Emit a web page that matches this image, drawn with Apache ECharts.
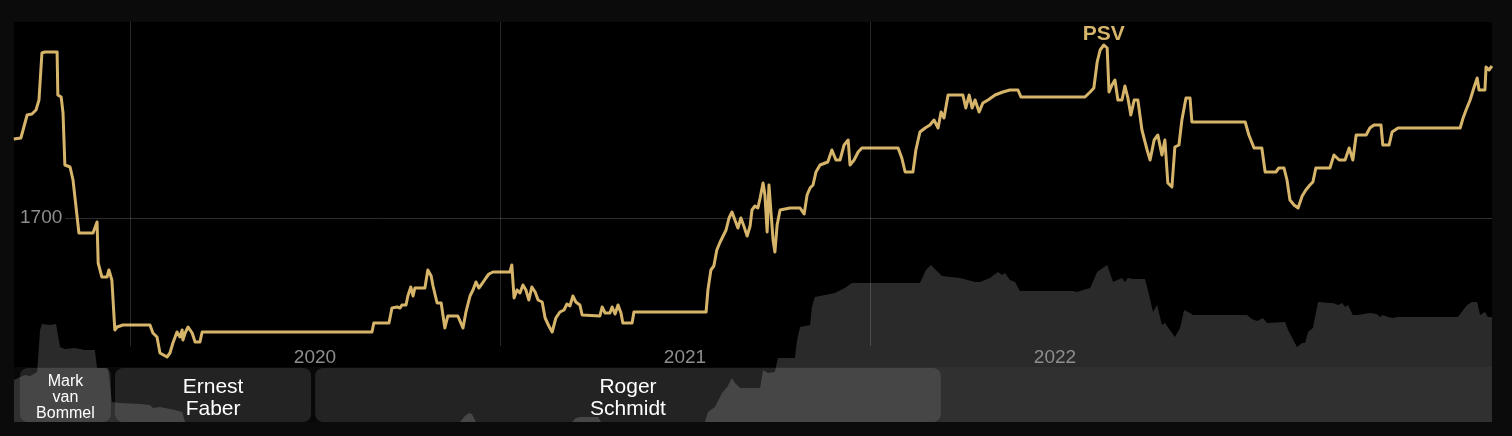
<!DOCTYPE html>
<html>
<head>
<meta charset="utf-8">
<script src="https://cdn.jsdelivr.net/npm/echarts@6/dist/echarts.min.js"></script>
<style>
  html, body { margin: 0; padding: 0; background: #0b0b0b; }
  #chart { width: 1512px; height: 436px; }
</style>
</head>
<body>
<div id="chart"></div>
<script>
// ---------- DATA (x = fractional year) ----------
const eloPoints = [
  [2019.686,1731.6],[2019.705,1732.0],[2019.711,1735.2],[2019.722,1741.2],[2019.735,1741.6],[2019.746,1743.2],
  [2019.754,1747.2],[2019.762,1766.0],[2019.770,1766.4],[2019.803,1766.4],[2019.805,1749.2],[2019.814,1748.4],
  [2019.819,1742.0],[2019.824,1721.2],[2019.838,1720.4],[2019.846,1715.2],[2019.862,1694.0],[2019.900,1694.0],
  [2019.911,1698.4],[2019.914,1682.0],[2019.919,1681.2],[2019.924,1676.4],[2019.938,1676.4],[2019.943,1679.2],
  [2019.951,1675.2],[2019.959,1655.2],[2019.965,1656.4],[2019.981,1657.2],[2020.054,1657.2],[2020.062,1654.0],
  [2020.073,1652.4],[2020.081,1646.0],[2020.100,1644.4],[2020.108,1646.0],[2020.116,1650.0],[2020.127,1654.4],
  [2020.135,1652.4],[2020.141,1655.2],[2020.143,1651.2],[2020.149,1654.0],[2020.157,1656.4],[2020.168,1654.0],
  [2020.176,1650.4],[2020.189,1650.4],[2020.195,1654.4],[2020.654,1654.4],[2020.659,1658.0],[2020.700,1658.0],
  [2020.708,1664.0],[2020.722,1664.4],[2020.730,1664.0],[2020.735,1665.2],[2020.746,1665.2],[2020.751,1668.8],
  [2020.759,1672.4],[2020.765,1668.8],[2020.770,1672.0],[2020.797,1672.0],[2020.805,1679.2],[2020.814,1676.8],
  [2020.819,1672.8],[2020.830,1666.0],[2020.841,1666.0],[2020.851,1656.0],[2020.859,1660.8],[2020.886,1660.8],
  [2020.900,1656.0],[2020.908,1662.4],[2020.919,1668.8],[2020.927,1671.2],[2020.935,1674.4],[2020.943,1672.0],
  [2020.951,1673.6],[2020.962,1676.0],[2020.970,1677.6],[2020.981,1678.4],[2021.027,1678.4],[2021.032,1681.2],
  [2021.038,1668.0],[2021.046,1671.2],[2021.054,1670.0],[2021.062,1673.2],[2021.070,1671.2],[2021.078,1667.2],
  [2021.086,1672.4],[2021.095,1670.4],[2021.103,1667.2],[2021.114,1666.4],[2021.122,1660.0],[2021.132,1656.8],
  [2021.141,1654.4],[2021.151,1660.0],[2021.162,1662.4],[2021.173,1663.2],[2021.181,1665.6],[2021.189,1664.8],
  [2021.197,1668.8],[2021.205,1666.4],[2021.216,1665.2],[2021.222,1661.2],[2021.270,1660.8],[2021.276,1664.4],
  [2021.284,1662.0],[2021.297,1662.0],[2021.303,1664.4],[2021.311,1661.6],[2021.319,1665.2],[2021.327,1662.0],
  [2021.332,1658.0],[2021.357,1658.0],[2021.362,1662.4],[2021.557,1662.4],[2021.562,1671.2],[2021.570,1679.2],
  [2021.578,1680.8],[2021.586,1687.2],[2021.595,1690.4],[2021.603,1692.8],[2021.611,1695.2],[2021.619,1700.0],
  [2021.627,1702.4],[2021.635,1699.2],[2021.643,1696.0],[2021.651,1700.0],[2021.659,1696.8],[2021.668,1692.8],
  [2021.676,1696.8],[2021.681,1703.2],[2021.689,1704.8],[2021.697,1704.0],[2021.703,1708.0],[2021.711,1714.0],
  [2021.716,1709.2],[2021.722,1694.4],[2021.727,1713.2],[2021.732,1703.2],[2021.738,1691.2],[2021.743,1686.4],
  [2021.749,1697.2],[2021.757,1703.2],[2021.784,1704.0],[2021.811,1704.0],[2021.822,1701.6],[2021.830,1709.2],
  [2021.838,1712.0],[2021.846,1713.2],[2021.854,1718.4],[2021.865,1721.2],[2021.886,1722.4],[2021.897,1727.2],
  [2021.908,1723.2],[2021.919,1723.2],[2021.930,1729.2],[2021.941,1731.2],[2021.946,1721.2],[2021.957,1723.2],
  [2021.968,1726.4],[2021.978,1728.0],[2022.076,1728.0],[2022.086,1724.0],[2022.095,1718.4],[2022.116,1718.4],
  [2022.124,1727.2],[2022.135,1734.4],[2022.149,1736.0],[2022.162,1737.2],[2022.173,1739.2],[2022.184,1736.0],
  [2022.192,1742.4],[2022.200,1740.0],[2022.211,1749.2],[2022.251,1749.2],[2022.259,1744.0],[2022.268,1749.2],
  [2022.276,1744.0],[2022.284,1747.2],[2022.295,1742.4],[2022.305,1746.0],[2022.319,1747.2],[2022.338,1749.2],
  [2022.359,1750.4],[2022.378,1751.2],[2022.400,1751.2],[2022.408,1748.4],[2022.581,1748.4],[2022.595,1750.4],
  [2022.605,1752.0],[2022.614,1762.4],[2022.622,1767.2],[2022.632,1769.2],[2022.641,1768.0],[2022.646,1750.4],
  [2022.654,1753.2],[2022.662,1755.2],[2022.670,1747.2],[2022.681,1747.2],[2022.689,1752.8],[2022.697,1748.0],
  [2022.705,1741.2],[2022.714,1747.2],[2022.724,1747.2],[2022.735,1735.2],[2022.749,1727.2],[2022.757,1723.2],
  [2022.768,1731.2],[2022.778,1733.2],[2022.789,1725.2],[2022.797,1731.2],[2022.805,1714.0],[2022.816,1712.4],
  [2022.824,1728.4],[2022.835,1729.2],[2022.843,1739.2],[2022.854,1748.0],[2022.865,1748.0],[2022.870,1738.4],
  [2023.014,1738.4],[2023.024,1733.2],[2023.038,1728.0],[2023.059,1728.0],[2023.068,1718.4],[2023.097,1718.4],
  [2023.105,1720.0],[2023.119,1720.0],[2023.127,1715.2],[2023.135,1707.2],[2023.146,1705.2],[2023.157,1704.0],
  [2023.168,1708.8],[2023.178,1711.2],[2023.189,1713.2],[2023.197,1714.4],[2023.205,1720.0],[2023.243,1720.0],
  [2023.254,1725.2],[2023.268,1723.2],[2023.284,1723.2],[2023.295,1728.0],[2023.305,1723.2],[2023.314,1733.2],
  [2023.341,1733.2],[2023.351,1736.0],[2023.362,1737.2],[2023.381,1737.2],[2023.386,1729.2],[2023.403,1729.2],
  [2023.411,1734.4],[2023.427,1736.0],[2023.595,1736.0],[2023.603,1740.0],[2023.611,1743.2],[2023.622,1747.2],
  [2023.632,1752.0],[2023.641,1756.0],[2023.646,1751.2],[2023.662,1751.2],[2023.665,1760.4],[2023.673,1759.2],
  [2023.681,1760.8]
];

const backgroundPoints = [
  [2019.686,10.5],[2019.703,11.25],[2019.716,11.75],[2019.730,11.5],[2019.749,12.5],[2019.757,23],[2019.762,24.5],
  [2019.784,24.25],[2019.800,24.5],[2019.805,24],[2019.811,18.75],[2019.824,18.25],[2019.851,18.5],[2019.878,18],
  [2019.905,18],[2019.911,13.5],[2019.941,13.5],[2019.951,5],[2019.973,4.75],[2020.027,4.5],[2020.054,4.25],
  [2020.062,3.5],[2020.081,3.75],[2020.122,3],[2020.141,2.5],[2020.149,0],[2020.892,0],[2020.905,1.5],
  [2020.916,2.25],[2020.924,2],[2020.935,0],[2021.195,0],[2021.205,1],[2021.216,1.25],[2021.265,1.25],
  [2021.273,0],[2021.554,0],[2021.562,2.5],[2021.581,3.75],[2021.600,7.25],[2021.614,8.75],[2021.627,11],
  [2021.635,9.75],[2021.649,8.5],[2021.703,8.5],[2021.711,13],[2021.724,12.25],[2021.743,12.5],[2021.751,16],
  [2021.797,16],[2021.803,20.5],[2021.811,23.75],[2021.838,24.25],[2021.843,28.75],[2021.851,31.25],
  [2021.905,32.25],[2021.932,33.5],[2021.951,34.75],[2022.135,34.75],[2022.151,38],[2022.165,39.25],
  [2022.178,38],[2022.195,36.5],[2022.243,36],[2022.284,35],[2022.297,35],[2022.311,35.5],[2022.324,36],
  [2022.346,37.5],[2022.357,36.75],[2022.365,37.25],[2022.378,35.5],[2022.392,35],[2022.405,32.75],
  [2022.549,32.75],[2022.559,32.5],[2022.576,33],[2022.595,33.5],[2022.614,37.5],[2022.641,39.25],
  [2022.657,35],[2022.681,36],[2022.689,35],[2022.697,36],[2022.711,35.75],[2022.743,35.75],[2022.751,33],
  [2022.765,27.5],[2022.776,29.25],[2022.789,24.25],[2022.797,24.75],[2022.824,21.25],[2022.838,23.5],
  [2022.849,28],[2022.865,27.25],[2022.873,26.75],[2023.019,26.75],[2023.032,25.75],[2023.046,25.25],
  [2023.062,26],[2023.073,24.75],[2023.122,25],[2023.130,23],[2023.154,18.75],[2023.168,19.75],[2023.176,19.75],
  [2023.184,22.5],[2023.197,23.5],[2023.211,30],[2023.243,29.75],[2023.251,29.75],[2023.265,29.25],
  [2023.276,29.75],[2023.284,28.75],[2023.292,29.25],[2023.305,26.75],[2023.319,26.75],[2023.351,27.25],
  [2023.370,27],[2023.378,26.25],[2023.386,26.75],[2023.400,26.25],[2023.414,26],[2023.424,26.25],
  [2023.589,26.25],[2023.603,28],[2023.614,29.25],[2023.627,30],[2023.641,30],[2023.649,26.75],
  [2023.662,27.5],[2023.670,26.25],[2023.681,26.25]
];

const coachNames  = ['Mark van Bommel', 'Ernest Faber', 'Roger Schmidt'];
const coachStarts = [2019.697, 2019.954, 2020.495];
const coachEnds   = [2019.954, 2020.495, 2022.197];

const yearTicks  = [2020, 2021, 2022];
const yearLabels = ['2020', '2021', '2022'];
const teamName   = 'PSV';

// ---------- CONFIG ----------
const X_MIN = 2019.6865, X_MAX = 2023.6811;
const ELO_MIN = 1618.4, ELO_MAX = 1778.4;
const GRIDLINE_BOTTOM = 1648.8;
const GOLD = '#d6b56b';
const FONT = '"Liberation Sans", Arial, Helvetica, sans-serif';

const chart = echarts.init(document.getElementById('chart'));

function renderCoach(params, api) {
  const i = params.dataIndex;
  const p0 = api.coord([api.value(0), 1]);
  const p1 = api.coord([api.value(1), 0]);
  const cs = params.coordSys;
  const x0 = p0[0] + 2, x1 = p1[0] - 2;
  const y0 = p0[1] + 1, y1 = p1[1];
  const w = x1 - x0, h = y1 - y0;
  const small = w < 120;
  const children = [];
  if (i === 0) {
    children.push({ type: 'rect', shape: { x: cs.x, y: cs.y, width: cs.width, height: cs.height },
      style: { fill: 'rgba(255,255,255,0.03)' } });
  }
  children.push({ type: 'rect', shape: { x: x0, y: y0, width: w, height: h, r: 8 },
    style: { fill: 'rgba(255,255,255,0.11)' } });
  children.push({ type: 'text', style: {
    text: coachNames[i].split(' ').join('\n'),
    x: x0 + w / 2, y: y0 + h / 2 + 3,
    align: 'center', verticalAlign: 'middle',
    fill: '#ffffff', fontFamily: 'Liberation Sans, Arial, sans-serif',
    fontSize: small ? 16 : 21, lineHeight: small ? 16 : 22
  } });
  return { type: 'group', children };
}

chart.setOption({
  backgroundColor: '#0b0b0b',
  animation: false,
  grid: [
    { left: 14, right: 20, top: 22, bottom: 14, show: true, backgroundColor: '#000', borderWidth: 0 },
    { left: 14, right: 20, top: 367, bottom: 14, show: false }
  ],
  xAxis: [
    { type: 'value', gridIndex: 0, min: X_MIN, max: X_MAX, z: 10,
      axisLine: { show: false }, axisTick: { show: false }, splitLine: { show: false },
      axisLabel: {
        inside: true, margin: 55, color: '#8e8e8e', fontSize: 19, fontFamily: FONT,
        showMinLabel: true, showMaxLabel: true, hideOverlap: false,
        customValues: yearTicks.map(v => v + 0.5),
        formatter: v => { const k = yearTicks.indexOf(Math.round(v - 0.5)); return k >= 0 ? yearLabels[k] : ''; }
      } },
    { type: 'value', gridIndex: 1, min: X_MIN, max: X_MAX, show: false }
  ],
  yAxis: [
    { type: 'value', gridIndex: 0, min: ELO_MIN, max: ELO_MAX, splitNumber: 2,
      axisLine: { show: false }, axisTick: { show: false },
      splitLine: { show: true, showMinLine: false, showMaxLine: false, lineStyle: { color: '#2e2e2e', width: 1 } },
      axisLabel: { inside: true, margin: 0, color: '#8e8e8e', fontSize: 19, fontFamily: FONT,
        showMinLabel: false, showMaxLabel: false, formatter: v => String(v),
        backgroundColor: '#000', padding: [2, 3, 2, 6] } },
    { type: 'value', gridIndex: 0, min: 0, max: 100, show: false },
    { type: 'value', gridIndex: 1, min: 0, max: 1, show: false }
  ],
  series: [
    { type: 'line', name: 'background', xAxisIndex: 0, yAxisIndex: 1, data: backgroundPoints,
      symbol: 'none', silent: true, z: 1,
      lineStyle: { width: 0 }, areaStyle: { color: '#2a2a2a', opacity: 1 } },
    { type: 'custom', xAxisIndex: 1, yAxisIndex: 2, z: 2, silent: true,
      data: coachNames.map((n, i) => [coachStarts[i], coachEnds[i]]),
      renderItem: renderCoach },
    { type: 'line', name: teamName, xAxisIndex: 0, yAxisIndex: 0, data: eloPoints,
      symbol: 'none', z: 3, silent: true,
      lineStyle: { color: GOLD, width: 3, join: 'round' },
      markPoint: {
        silent: true, symbol: 'circle', symbolSize: 1, itemStyle: { color: 'rgba(0,0,0,0)' },
        data: [{ type: 'max' }],
        label: { show: true, position: 'top', distance: 0, formatter: teamName,
          color: GOLD, fontWeight: 'bold', fontSize: 21, fontFamily: FONT }
      },
      markLine: {
        silent: true, symbol: ['none', 'none'], label: { show: false },
        lineStyle: { color: 'rgba(255,255,255,0.16)', width: 1, type: 'solid' },
        emphasis: { disabled: true },
        data: yearTicks.map(v => [{ coord: [v, GRIDLINE_BOTTOM] }, { coord: [v, ELO_MAX] }])
      } }
  ]
});
</script>
</body>
</html>
